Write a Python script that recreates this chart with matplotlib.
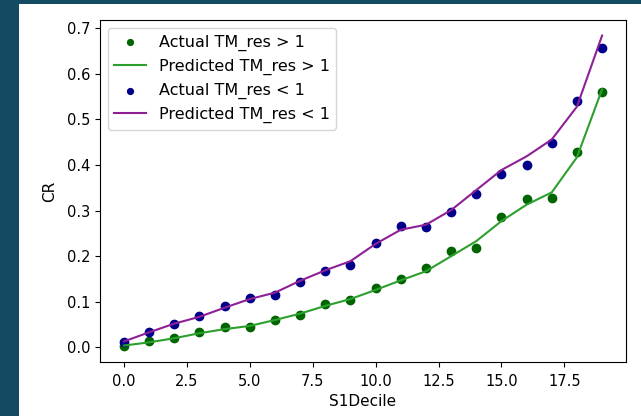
import numpy as np
import matplotlib
matplotlib.use("Agg")
import matplotlib.pyplot as plt
from matplotlib.patches import Rectangle

# decile index 0..19
decile = np.arange(20)

actual_hi = [0.002, 0.013, 0.020, 0.034, 0.044, 0.044, 0.061, 0.072, 0.096, 0.103,
             0.130, 0.151, 0.175, 0.212, 0.218, 0.287, 0.325, 0.328, 0.428, 0.561]
pred_hi = [0.004, 0.011, 0.020, 0.031, 0.040, 0.047, 0.060, 0.074, 0.091, 0.106,
           0.126, 0.147, 0.167, 0.200, 0.233, 0.277, 0.313, 0.340, 0.417, 0.566]

actual_lo = [0.011, 0.034, 0.052, 0.068, 0.090, 0.108, 0.114, 0.143, 0.167, 0.180,
             0.230, 0.267, 0.263, 0.297, 0.337, 0.380, 0.400, 0.448, 0.540, 0.656]
pred_lo = [0.013, 0.033, 0.052, 0.067, 0.087, 0.106, 0.120, 0.146, 0.169, 0.189,
           0.227, 0.258, 0.269, 0.301, 0.345, 0.389, 0.419, 0.456, 0.528, 0.684]

fig = plt.figure(figsize=(6.41, 4.16), dpi=100, facecolor="#154a63")
# white output cell behind the plot
fig.patches.append(Rectangle((19 / 641, 0), 1 - 19 / 641, 412 / 416,
                             transform=fig.transFigure, facecolor="white",
                             edgecolor="none", zorder=-10))

ax = fig.add_axes([100 / 641, 54 / 416, 526 / 641, 342 / 416])
ax.scatter(decile, actual_hi, color="darkgreen", label="Actual TM_res > 1")
ax.plot(decile, pred_hi, color="#2ca02c", label="Predicted TM_res > 1")
ax.scatter(decile, actual_lo, color="darkblue", label="Actual TM_res < 1")
ax.plot(decile, pred_lo, color="#8e1f96", label="Predicted TM_res < 1")

ax.tick_params(labelsize=10.5)
ax.tick_params(axis="x", pad=5)
ax.set_xlabel("S1Decile", fontsize=11)
ax.set_ylabel("CR", fontsize=11, labelpad=7)
ax.legend(loc="upper left", fontsize=11.5, markerscale=0.7)

fig.savefig("out.png", dpi=100, facecolor=fig.get_facecolor())
